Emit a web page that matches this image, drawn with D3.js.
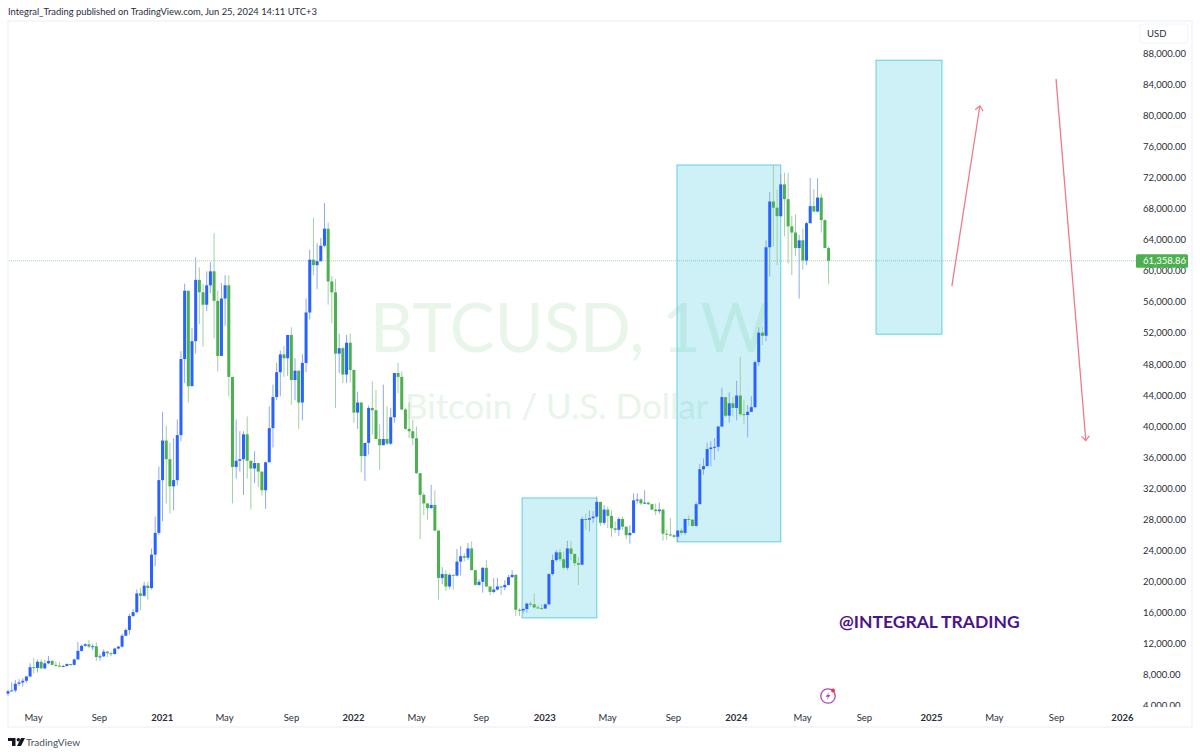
<!DOCTYPE html>
<html lang="en">
<head>
<meta charset="UTF-8">
<title>BTCUSD, 1W</title>
<script src="https://d3js.org/d3.v7.min.js"></script>
<style>
  html, body { margin: 0; padding: 0; background: #fff; }
  svg { display: block; }
  text { font-family: Lato, "Noto Sans", sans-serif; }
  .domain { display: none; }
</style>
</head>
<body>
<div id="chart"></div>
<script>
// weekly candles, thousands of USD
const opens = [
  5.6,5.9,6.0,6.86,7.03,7.25,7.8,9.0,8.9,9.7,
  8.85,9.5,9.8,9.3,9.2,9.1,9.15,9.4,9.3,10.0,
  11.1,11.75,11.95,11.65,11.7,10.3,10.4,11.0,10.8,10.7,
  11.4,11.65,13.05,13.8,15.6,16.1,18.5,18.2,19.5,19.2,
  23.5,26.3,33.1,38.2,35.8,32.3,33.1,38.9,48.7,57.5,
  45.2,51.0,58.9,57.3,55.7,58.2,60.0,56.2,49.1,56.5,
  58.2,46.4,34.8,35.6,35.8,39.0,35.6,34.6,35.3,34.2,
  31.8,35.4,39.8,43.8,47.0,49.3,48.8,51.8,46.0,47.2,
  43.1,48.2,54.7,61.5,60.8,61.3,63.3,65.5,58.7,57.3,
  49.4,50.1,46.7,50.8,47.3,41.8,43.1,36.2,37.9,42.4,
  42.1,38.4,37.6,38.4,37.8,41.2,46.9,46.4,42.2,39.7,
  39.4,38.5,34.0,31.2,30.1,29.5,29.9,26.6,20.5,21.0,
  19.4,20.9,20.8,22.6,23.3,23.1,24.3,21.5,19.6,20.0,
  21.8,19.4,18.7,19.0,19.4,19.3,19.6,20.6,20.9,16.4,
  16.3,16.5,17.2,17.1,16.7,16.6,16.55,17.1,21.0,22.8,
  23.8,22.9,21.8,24.3,23.6,22.4,22.2,28.1,28.0,28.2,
  28.4,30.3,27.6,29.3,28.5,26.9,26.7,28.1,27.1,26.0,
  26.3,30.5,30.6,30.1,30.2,30.0,29.3,29.1,29.3,26.2,
  26.1,26.0,25.8,26.6,26.3,28.1,28.0,27.2,30.0,34.5,
  34.9,37.1,37.3,37.4,40.0,43.8,41.4,43.0,42.4,44.0,
  41.6,41.5,41.9,42.5,48.3,52.1,51.7,63.1,69.0,68.2,
  67.1,71.2,69.3,65.8,65.0,63.0,64.0,61.4,66.2,68.4,
  67.7,69.5,66.6,63.0
];
const closes = [
  5.9,6.0,6.86,7.03,7.25,7.8,9.0,8.9,9.7,8.85,
  9.5,9.8,9.3,9.2,9.1,9.15,9.4,9.3,10.0,11.1,
  11.75,11.95,11.65,11.7,10.3,10.4,11.0,10.8,10.7,11.4,
  11.65,13.05,13.8,15.6,16.1,18.5,18.2,19.5,19.2,23.5,
  26.3,33.1,38.2,35.8,32.3,33.1,38.9,48.7,57.5,45.2,
  51.0,58.9,57.3,55.7,58.2,60.0,56.2,49.1,56.5,58.2,
  46.4,34.8,35.6,35.8,39.0,35.6,34.6,35.3,34.2,31.8,
  35.4,39.8,43.8,47.0,49.3,48.8,51.8,46.0,47.2,43.1,
  48.2,54.7,61.5,60.8,61.3,63.3,65.5,58.7,57.3,49.4,
  50.1,46.7,50.8,47.3,41.8,43.1,36.2,37.9,42.4,42.1,
  38.4,37.6,38.4,37.8,41.2,46.9,46.4,42.2,39.7,39.4,
  38.5,34.0,31.2,30.1,29.5,29.9,26.6,20.5,21.0,19.4,
  20.9,20.8,22.6,23.3,23.1,24.3,21.5,19.6,20.0,21.8,
  19.4,18.7,19.0,19.4,19.3,19.6,20.6,20.9,16.4,16.3,
  16.5,17.2,17.1,16.7,16.6,16.55,17.1,21.0,22.8,23.8,
  22.9,21.8,24.3,23.6,22.4,22.2,28.1,28.0,28.2,28.4,
  30.3,27.6,29.3,28.5,26.9,26.7,28.1,27.1,26.0,26.3,
  30.5,30.6,30.1,30.2,30.0,29.3,29.1,29.3,26.2,26.1,
  26.0,25.8,26.6,26.3,28.1,28.0,27.2,30.0,34.5,34.9,
  37.1,37.3,37.4,40.0,43.8,41.4,43.0,42.4,44.0,41.6,
  41.5,41.9,42.5,48.3,52.1,51.7,63.1,69.0,68.2,67.1,
  71.2,69.3,65.8,65.0,63.0,64.0,61.4,66.2,68.4,67.7,
  69.5,66.6,63.0,61.36
];
const highs = [
  6.1,7.03,7.37,7.46,7.6,7.9,9.5,10.16,10.0,10.0,
  9.95,10.46,9.95,9.7,9.7,9.3,9.5,9.45,10.1,12.25,
  11.9,12.1,12.5,12.0,12.2,10.7,11.3,11.07,11.0,11.5,
  11.75,13.3,14.0,15.9,16.5,19.0,19.2,20.0,20.0,24.3,
  28.4,34.85,41.9,40.1,37.9,38.5,40.9,49.7,58.4,57.5,
  52.7,61.8,60.5,58.4,60.0,61.2,64.9,57.5,58.5,59.5,
  59.5,46.4,40.9,39.4,39.4,41.3,35.6,36.8,35.3,34.2,
  35.5,42.6,45.4,48.2,49.8,50.4,51.8,52.8,48.8,47.2,
  49.3,56.5,62.8,66.9,63.6,64.3,68.8,66.3,59.4,59.0,
  52.0,50.3,51.8,52.0,47.3,44.5,43.1,37.9,42.7,45.8,
  44.7,40.3,45.4,42.6,42.4,46.9,48.2,47.1,42.4,43.1,
  40.9,40.0,34.0,31.5,30.1,32.5,31.8,26.6,21.9,21.5,
  21.1,20.9,24.2,24.6,23.7,25.0,25.2,21.5,20.3,21.9,
  22.8,19.4,20.5,20.5,19.5,20.2,20.9,21.5,21.0,16.6,
  16.6,17.3,17.5,18.5,17.0,17.1,17.2,21.1,23.5,24.1,
  24.3,23.9,25.3,25.3,23.6,23.2,28.4,28.8,29.2,29.1,
  31.0,30.3,29.9,29.7,29.2,27.8,28.3,28.4,27.1,27.3,
  31.4,31.4,30.8,31.8,30.3,30.1,30.1,30.2,29.4,26.7,
  28.2,26.2,26.7,26.9,28.1,28.6,28.1,30.3,35.2,35.9,
  37.9,38.1,38.5,40.1,45.0,43.8,44.4,43.8,45.9,49.0,
  43.4,42.8,43.9,48.5,52.8,52.8,64.0,70.2,73.7,70.5,
  72.5,72.7,72.7,67.1,67.3,64.7,65.5,66.4,72.0,70.6,
  72.0,70.0,66.7,63.2
];
const lows = [
  5.3,5.9,5.74,6.6,6.5,7.0,7.7,8.2,8.3,8.75,
  8.75,9.4,9.2,9.1,9.0,9.1,9.1,9.2,9.2,9.95,
  11.0,11.65,11.45,11.2,9.8,9.85,10.3,10.3,10.4,10.6,
  11.3,11.5,13.0,13.2,15.45,15.95,16.3,18.1,17.7,19.0,
  22.0,26.05,27.8,30.1,28.8,29.2,32.4,38.1,45.6,43.1,
  45.2,49.4,53.2,50.3,54.9,57.2,51.4,47.1,49.1,53.0,
  43.9,30.1,33.3,34.2,31.2,33.3,29.3,32.7,32.2,31.1,
  29.4,35.4,37.3,43.4,43.9,46.4,46.5,42.8,43.4,39.7,
  40.8,47.0,53.8,59.5,57.7,61.3,63.1,55.7,53.3,42.4,
  46.9,45.6,45.6,45.7,40.5,39.7,34.1,33.0,36.4,39.0,
  38.4,34.4,37.6,37.6,37.6,40.5,44.3,42.1,39.6,38.5,
  37.6,33.9,25.5,28.6,28.0,29.4,26.5,17.7,19.7,18.8,
  19.1,19.0,20.7,20.8,22.6,22.8,21.5,19.5,19.5,18.6,
  19.3,18.3,18.5,18.9,18.3,18.9,19.5,20.5,15.6,15.6,
  15.9,16.0,16.8,16.6,16.5,16.5,16.6,17.0,20.8,22.6,
  22.6,21.6,21.5,22.8,22.0,19.6,22.2,26.7,26.5,27.6,
  28.2,27.2,27.3,26.9,25.8,26.3,25.9,26.7,25.5,24.9,
  26.3,30.1,29.9,30.0,29.9,29.2,28.6,28.8,25.3,25.4,
  25.8,25.6,25.1,26.0,26.0,27.2,27.1,27.1,30.0,33.8,
  34.9,34.9,35.7,36.8,40.0,41.2,40.5,41.3,40.8,41.3,
  40.3,38.6,41.9,42.4,47.8,50.5,51.0,59.3,63.2,60.8,
  67.1,64.5,61.0,59.5,62.0,56.5,60.2,60.8,66.2,67.7,
  67.6,65.0,63.0,58.4
];

const priceTicks = [88,84,80,76,72,68,64,60,56,52,48,44,40,36,32,28,24,20,16,12,8,4];
const timeLabels = ["May","Sep","2021","May","Sep","2022","May","Sep","2023","May","Sep","2024","May","Sep","2025","May","Sep","2026"];
const timeWeeks = [6.8,24.7,41.8,58.7,76.9,93.75,110.9,128.5,145.7,162.8,180.7,197.8,215.8,232.6,250.8,267.9,284.8,302.7];
const lastPrice = 61.35886;

// drawings, in [week, price]
const boxWeeks = [[139.7,160],[181.8,210],[235.9,253.8]];
const boxPrices = [[30.8,15.36],[73.7,25.15],[87.2,51.9]];
const arrowWeeks = [[256.5,264.1],[284.8,292.9]];
const arrowPrices = [[58.1,81.3],[84.8,38.2]];

const width = 1200, height = 755;
const upColor = "#2962ff", downColor = "#4caf50";
const axisFont = 'Lato, "Noto Sans", sans-serif';

const svg = d3.select("#chart").append("svg")
    .attr("width", width)
    .attr("height", height);

const x = d3.scaleLinear().domain([0, 223]).range([8, 828.6]);
const y = d3.scaleLinear().domain([4, 88]).range([706, 54]);

svg.append("text").attr("x", 8).attr("y", 15)
    .attr("font-size", 9.4).attr("fill", "#2a2e39")
    .text("Integral_Trading published on TradingView.com, Jun 25, 2024 14:11 UTC+3");

// frame
svg.append("rect").attr("x", 8).attr("y", 21).attr("width", 1184).attr("height", 706)
    .attr("fill", "none").attr("stroke", "#f0f3fa").attr("stroke-width", 1.5);

// watermark
svg.append("text").attr("x", 370).attr("y", 352)
    .attr("font-size", 67).attr("fill", "#e8f5e9")
    .text("BTCUSD, 1W");
svg.append("text").attr("x", 405).attr("y", 419)
    .attr("font-size", 35).attr("fill", "#e8f5e9")
    .text("Bitcoin / U.S. Dollar");

// last price line
svg.append("line")
    .attr("x1", 9).attr("x2", 1136)
    .attr("y1", y(lastPrice)).attr("y2", y(lastPrice))
    .attr("stroke", "#8fc794").attr("stroke-width", 0.8)
    .attr("stroke-dasharray", "1 1");

// boxes
svg.selectAll(".box").data(boxWeeks).enter().append("rect")
    .attr("class", "box")
    .attr("x", d => x(d[0]))
    .attr("width", d => x(d[1]) - x(d[0]))
    .attr("y", (d, i) => y(boxPrices[i][0]))
    .attr("height", (d, i) => y(boxPrices[i][1]) - y(boxPrices[i][0]))
    .attr("fill", "rgba(10,185,220,0.2)")
    .attr("stroke", "#62cfdc").attr("stroke-width", 1);

// candles
const candles = svg.append("g").selectAll("g").data(closes).enter().append("g");

candles.append("line")
    .attr("x1", (d, i) => x(i)).attr("x2", (d, i) => x(i))
    .attr("y1", (d, i) => y(highs[i])).attr("y2", (d, i) => y(lows[i]))
    .attr("stroke", (d, i) => d >= opens[i] ? "#8ea9f0" : "#9fd1a2")
    .attr("stroke-width", 1);

candles.append("rect")
    .attr("x", (d, i) => x(i) - 1.5)
    .attr("width", 3)
    .attr("y", (d, i) => y(Math.max(d, opens[i])))
    .attr("height", (d, i) => Math.max(1, Math.abs(y(d) - y(opens[i]))))
    .attr("fill", (d, i) => d >= opens[i] ? upColor : downColor);

// arrows
svg.append("defs").append("marker")
    .attr("id", "head")
    .attr("viewBox", "-6 -6 12 12")
    .attr("markerUnits", "userSpaceOnUse")
    .attr("markerWidth", 12).attr("markerHeight", 12)
    .attr("orient", "auto")
    .append("path")
    .attr("d", "M-4.5,-4 L0,0 L-4.5,4")
    .attr("fill", "none").attr("stroke", "#ec7c8c").attr("stroke-width", 1.2);

svg.selectAll(".arrow").data(arrowWeeks).enter().append("line")
    .attr("class", "arrow")
    .attr("x1", d => x(d[0])).attr("x2", d => x(d[1]))
    .attr("y1", (d, i) => y(arrowPrices[i][0]))
    .attr("y2", (d, i) => y(arrowPrices[i][1]))
    .attr("stroke", "#ec7c8c").attr("stroke-width", 1.3)
    .attr("marker-end", "url(#head)");

svg.append("text").attr("x", 839).attr("y", 628)
    .attr("font-size", 17.5).attr("font-weight", 700).attr("fill", "#4a148c")
    .text("@INTEGRAL TRADING");

// lightning icon
const icon = svg.append("g").attr("transform", "translate(828,696)");
icon.append("circle").attr("r", 7.2)
    .attr("fill", "#fff").attr("stroke", "#ab47bc").attr("stroke-width", 1.3);
icon.append("path").attr("d", "M1.5,-4 L-2.5,0.8 L0,0.8 L-1.5,4 L2.5,-1 L0,-1 Z")
    .attr("fill", "#ab47bc");
icon.append("circle").attr("cx", 5).attr("cy", -5.5).attr("r", 2).attr("fill", "#f23645");

// price axis
svg.append("clipPath").attr("id", "axisClip")
    .append("rect").attr("x", 1100).attr("y", 40).attr("width", 100).attr("height", 667);

const priceAxis = svg.append("g")
    .attr("clip-path", "url(#axisClip)")
    .append("g")
    .attr("transform", "translate(1143,-0.5)")
    .call(d3.axisRight(y).tickValues(priceTicks).tickSize(0).tickPadding(0)
        .tickFormat(d => d3.format(",.2f")(d * 1000)));
priceAxis.selectAll("text")
    .attr("font-size", 9.5).attr("fill", "#2a2e39")
    .style("font-family", axisFont);

// USD button
svg.append("rect").attr("x", 1140).attr("y", 24).attr("width", 48).attr("height", 19).attr("rx", 3)
    .attr("fill", "#fff").attr("stroke", "#f0f3fa");
svg.append("text").attr("x", 1147).attr("y", 37)
    .attr("font-size", 9.5).attr("fill", "#2a2e39").text("USD");

// last price tag
svg.append("rect").attr("x", 1136).attr("y", y(lastPrice) - 6.5)
    .attr("width", 52).attr("height", 13.5).attr("rx", 1.5).attr("fill", downColor);
svg.append("text").attr("x", 1143).attr("y", y(lastPrice) + 3.5)
    .attr("font-size", 9.5).attr("fill", "#fff")
    .text(d3.format(",.2f")(lastPrice * 1000));

// time axis
const timeAxis = svg.append("g")
    .attr("transform", "translate(0,714)")
    .call(d3.axisBottom(x).tickValues(timeWeeks).tickSize(0).tickPadding(0)
        .tickFormat((d, i) => timeLabels[i]));
timeAxis.selectAll("text")
    .attr("font-size", 9.5).attr("fill", "#2a2e39")
    .style("font-family", axisFont)
    .attr("font-weight", (d, i) => /^20/.test(timeLabels[i]) ? 700 : 400);

// TradingView logo
svg.append("path")
    .attr("d", "M8,738 H15.5 V746 H12 V741 H8 Z M21,738 H25 L21,746 H17 Z")
    .attr("fill", "#131722");
svg.append("circle").attr("cx", 18.3).attr("cy", 739.7).attr("r", 1.7).attr("fill", "#131722");
svg.append("text").attr("x", 26).attr("y", 746)
    .attr("font-size", 10).attr("fill", "#4a4e59").text("TradingView");
</script>
</body>
</html>
